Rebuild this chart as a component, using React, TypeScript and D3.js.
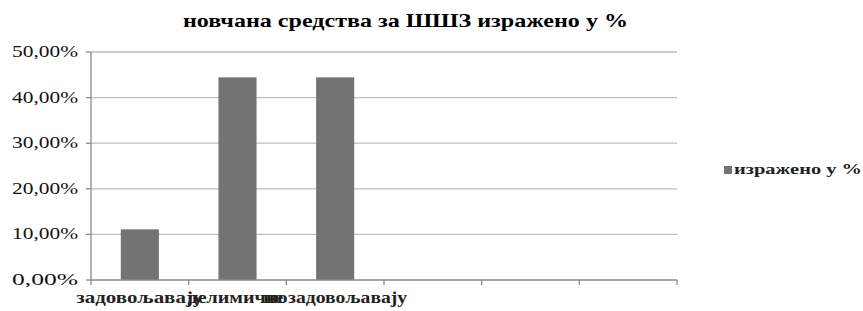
import { useEffect, useRef } from "react";
import * as d3 from "d3";

// ----- Data ---------------------------------------------------------------
const title = "новчана средства за ШШЗ изражено у %";
const seriesName = "изражено у %";
const categories = ["задовољавају", "делимично", "не задовољавају", "", "", ""];
const labelWidths = [127, 100, 144, 0, 0, 0];
const values = [0.1111, 0.4444, 0.4444, null, null, null];
const yTicks = [0, 0.1, 0.2, 0.3, 0.4, 0.5];

const W = 863;
const H = 311;

const App = () => {
  const svgRef = useRef<SVGSVGElement | null>(null);

  useEffect(() => {
    const svg = d3.select(svgRef.current);
    svg.selectAll("*").remove();

    const plot = { left: 91, right: 677, top: 52, bottom: 280 };
    const font = '"Liberation Serif", "Times New Roman", "DejaVu Serif", serif';

    const x = d3
      .scaleBand<number>()
      .domain(categories.map((_, i) => i))
      .range([plot.left, plot.right])
      .padding(0);

    const y = d3.scaleLinear().domain([0, 0.5]).range([plot.bottom, plot.top]);

    const fmt = (v: number) => (v * 100).toFixed(2).replace(".", ",") + "%";

    // ----- Gridlines ------------------------------------------------------
    svg
      .append("g")
      .selectAll("line")
      .data(yTicks.filter((t) => t > 0))
      .join("line")
      .attr("x1", plot.left)
      .attr("x2", plot.right)
      .attr("y1", (d) => y(d))
      .attr("y2", (d) => y(d))
      .attr("stroke", "#bdbdbd")
      .attr("stroke-width", 1.3);

    // ----- Bars -----------------------------------------------------------
    const barW = x.bandwidth() * 0.39;
    svg
      .append("g")
      .selectAll("rect")
      .data(values.map((v, i) => ({ v, i })).filter((d) => d.v != null))
      .join("rect")
      .attr("x", (d) => (x(d.i) as number) + (x.bandwidth() - barW) / 2)
      .attr("y", (d) => y(d.v as number))
      .attr("width", barW)
      .attr("height", (d) => plot.bottom - y(d.v as number))
      .attr("fill", "#737373");

    // ----- Y axis ---------------------------------------------------------
    const yAxis = svg.append("g");
    yAxis
      .append("line")
      .attr("x1", plot.left)
      .attr("x2", plot.left)
      .attr("y1", plot.top)
      .attr("y2", plot.bottom)
      .attr("stroke", "#8a8a8a")
      .attr("stroke-width", 1.3);
    yAxis
      .selectAll("line.tick")
      .data(yTicks)
      .join("line")
      .attr("class", "tick")
      .attr("x1", plot.left - 5)
      .attr("x2", plot.left)
      .attr("y1", (d) => y(d))
      .attr("y2", (d) => y(d))
      .attr("stroke", "#8a8a8a")
      .attr("stroke-width", 1.3);
    yAxis
      .selectAll("text")
      .data(yTicks)
      .join("text")
      .attr("x", 78)
      .attr("y", (d) => y(d) + 5)
      .attr("text-anchor", "end")
      .style("font-family", font)
      .style("font-size", "16px")
      .attr("fill", "#111")
      .attr("textLength", 66)
      .attr("lengthAdjust", "spacingAndGlyphs")
      .text((d) => fmt(d));

    // ----- X axis ---------------------------------------------------------
    const xAxis = svg.append("g");
    xAxis
      .append("line")
      .attr("x1", plot.left)
      .attr("x2", plot.right)
      .attr("y1", plot.bottom)
      .attr("y2", plot.bottom)
      .attr("stroke", "#8a8a8a")
      .attr("stroke-width", 1.3);
    const edges = categories.map((_, i) => x(i) as number).concat(plot.right);
    xAxis
      .selectAll("line.tick")
      .data(edges)
      .join("line")
      .attr("class", "tick")
      .attr("x1", (d) => d)
      .attr("x2", (d) => d)
      .attr("y1", plot.bottom)
      .attr("y2", plot.bottom + 5)
      .attr("stroke", "#8a8a8a")
      .attr("stroke-width", 1.3);
    xAxis
      .selectAll("text")
      .data(categories.map((c, i) => ({ c, i })).filter((d) => d.c))
      .join("text")
      .attr("x", (d) => (x(d.i) as number) + x.bandwidth() / 2)
      .attr("y", 303)
      .attr("text-anchor", "middle")
      .style("font-family", font)
      .style("font-size", "16px")
      .style("font-weight", "bold")
      .attr("fill", "#222")
      .attr("textLength", (d) => labelWidths[d.i])
      .attr("lengthAdjust", "spacingAndGlyphs")
      .text((d) => d.c);

    // ----- Title ----------------------------------------------------------
    svg
      .append("text")
      .attr("x", 183)
      .attr("y", 27)
      .style("font-family", font)
      .style("font-size", "19px")
      .style("font-weight", "bold")
      .attr("fill", "#000")
      .attr("textLength", 445)
      .attr("lengthAdjust", "spacingAndGlyphs")
      .text(title);

    // ----- Legend ---------------------------------------------------------
    const legend = svg.append("g").attr("transform", "translate(724,166)");
    legend.append("rect").attr("width", 8).attr("height", 8).attr("fill", "#737373");
    legend
      .append("text")
      .attr("x", 10)
      .attr("y", 8)
      .style("font-family", font)
      .style("font-size", "15px")
      .style("font-weight", "bold")
      .attr("fill", "#222")
      .attr("textLength", 128)
      .attr("lengthAdjust", "spacingAndGlyphs")
      .text(seriesName);
  }, []);

  return (
    <svg
      ref={svgRef}
      width={W}
      height={H}
      style={{ position: "absolute", left: 0, top: 0, background: "#fff" }}
    />
  );
};

export default App;
